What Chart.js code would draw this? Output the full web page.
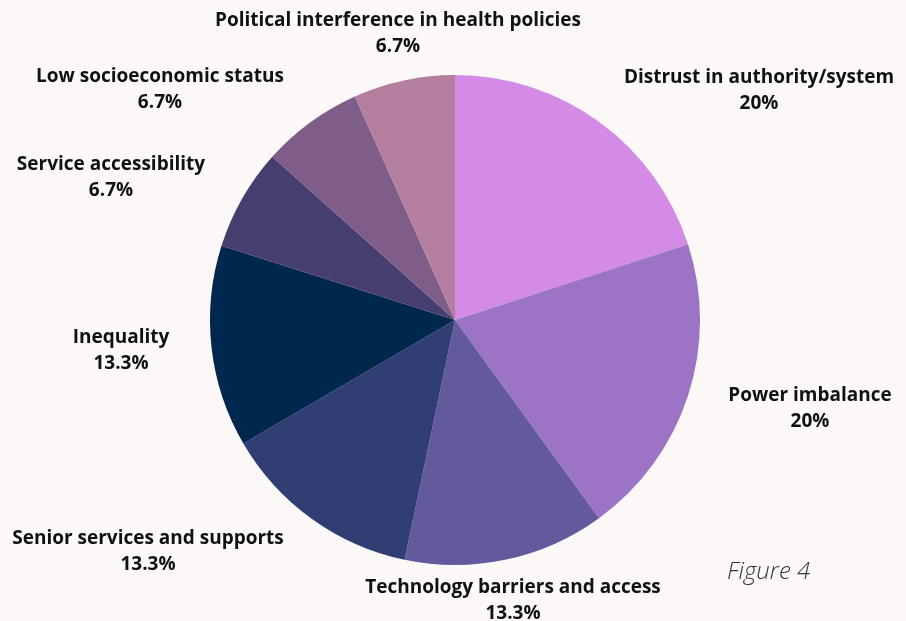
<!DOCTYPE html>
<html>
<head>
<meta charset="utf-8">
<script src="https://cdn.jsdelivr.net/npm/chart.js@4.4.0/dist/chart.umd.min.js"></script>
<style>
  html, body { margin: 0; padding: 0; background: #fcf8f7; }
  #wrap { width: 906px; height: 621px; position: relative; }
  #caption {
    position: absolute; left: 727px; top: 553px;
    font-family: "Open Sans", sans-serif; font-style: italic; font-weight: 300;
    font-size: 24px; color: #333;
  }
</style>
</head>
<body>
<div id="wrap">
  <canvas id="pie" width="906" height="621"></canvas>
  <div id="caption">Figure 4</div>
</div>
<script>
// Barriers, clockwise from 12 o'clock
const categories = [
  'Distrust in authority/system',
  'Power imbalance',
  'Technology barriers and access',
  'Senior services and supports',
  'Inequality',
  'Service accessibility',
  'Low socioeconomic status',
  'Political interference in health policies'
];
const shares = [20, 20, 13.3, 13.3, 13.3, 6.7, 6.7, 6.7];
const shareLabels = ['20%', '20%', '13.3%', '13.3%', '13.3%', '6.7%', '6.7%', '6.7%'];
const sliceColors = ['#d48be6', '#9b74c6', '#625a9d', '#313e73', '#00274d', '#463e6e', '#7f5d89', '#b47e9f'];

// label anchor, offset from pie centre (px)
const labelOffsets = [
  [304, -242], [355, 76], [58, 268], [-307, 219],
  [-334, 18], [-344, -155], [-295, -243], [-57, -299]
];

const labelPlugin = {
  id: 'sliceLabels',
  afterDraw(chart) {
    const ctx = chart.ctx;
    const arc = chart.getDatasetMeta(0).data[0];
    ctx.save();
    ctx.fillStyle = '#111';
    ctx.textAlign = 'center';
    ctx.textBaseline = 'middle';
    ctx.font = 'bold 19px "Open Sans", sans-serif';
    categories.forEach((name, i) => {
      const x = arc.x + labelOffsets[i][0];
      const y = arc.y + labelOffsets[i][1];
      ctx.fillText(name, x, y);
      ctx.fillText(shareLabels[i], x, y + 26);
    });
    ctx.restore();
  }
};

new Chart(document.getElementById('pie'), {
  type: 'pie',
  data: {
    labels: categories,
    datasets: [{
      data: shares,
      backgroundColor: sliceColors,
      borderWidth: 0
    }]
  },
  options: {
    responsive: false,
    animation: false,
    layout: { padding: { left: 210, right: 206, top: 75, bottom: 56 } },
    plugins: { legend: { display: false }, tooltip: { enabled: false } }
  },
  plugins: [labelPlugin]
});
</script>
</body>
</html>
